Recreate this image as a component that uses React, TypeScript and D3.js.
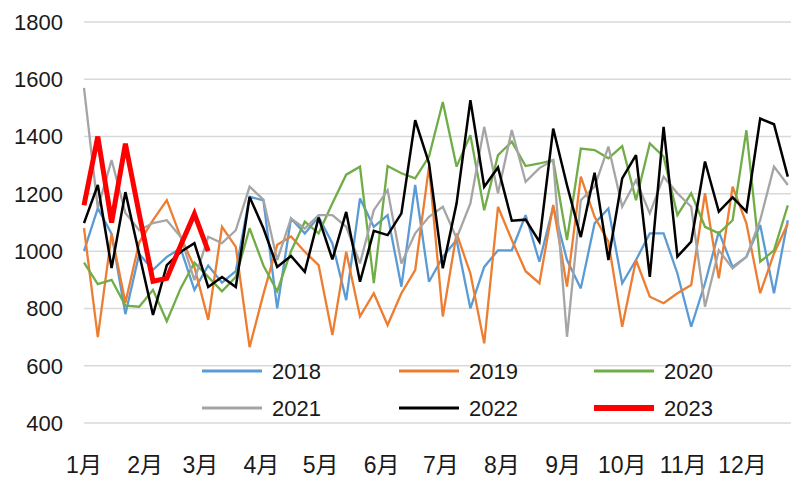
import React from "react";
import * as d3 from "d3";

const years = ["2018", "2019", "2020", "2021", "2022", "2023"];
const colors = ["#5B9BD5", "#ED7D31", "#70AD47", "#A5A5A5", "#000000", "#FF0000"];
const widths = [2.3, 2.3, 2.3, 2.3, 2.5, 5];

const s2018 = [1000, 1150, 1060, 780, 990, 935, 980, 1010, 865, 950, 890, 930, 1190,
  1177, 800, 1114, 1062, 1120, 1027, 829, 1184, 1085, 1126, 876, 1231, 893, 980, 1039, 800, 945, 1003, 1003,
  1126, 963, 1155, 969, 870, 1097, 1149, 888, 969, 1062, 1062, 922, 736, 888, 1068, 945, 980, 1091, 853, 1108];
const s2019 = [1080, 700, 1060, 820, 1030, 1108, 1178, 1050, 945, 760, 1085, 1015, 665,
  850, 1022, 1051, 998, 951, 707, 998, 772, 853, 742, 853, 934, 1295, 772, 1062, 922, 678, 1155, 1039,
  930, 888, 1161, 876, 1260, 1120, 1033, 736, 969, 841, 818, 853, 882, 1202, 905, 1225, 1097, 853, 992, 1097];
const s2020 = [960, 885, 900, 810, 806, 865, 755, 870, 960, 910, 860, 910, 1080,
  950, 860, 1000, 1103, 1062, 1167, 1267, 1295, 888, 1297, 1272, 1254, 1330, 1521, 1295, 1405, 1143, 1335, 1382,
  1297, 1306, 1318, 1039, 1358, 1353, 1324, 1367, 1178, 1376, 1330, 1126, 1202, 1085, 1062, 1108, 1422, 963, 1003, 1160];
const s2021 = [1570, 1150, 1318, 1133, 1073, 1098, 1108, 1050, 899, 1050, 1028, 1073, 1225,
  1180, 969, 1114, 1079, 1126, 1126, 1085, 957, 1143, 1213, 957, 1062, 1120, 1155, 1045, 1167, 1434, 1202, 1423,
  1242, 1290, 1318, 701, 1178, 1225, 1365, 1155, 1248, 1132, 1260, 1202, 1155, 806, 1003, 940, 980, 1108, 1295, 1231];
const s2022 = [1098, 1231, 941, 1206, 990, 777, 951, 997, 1028, 875, 910, 875, 1189,
  1080, 945, 983, 928, 1117, 971, 1137, 893, 1071, 1056, 1132, 1457, 1307, 940, 1167, 1527, 1225, 1292, 1106,
  1110, 1033, 1428, 1230, 1049, 1274, 969, 1254, 1335, 910, 1434, 981, 1033, 1313, 1138, 1188, 1138, 1463, 1443, 1260];
const s2023 = [1160, 1400, 1100, 1375, 1130, 895, 905, 1020, 1130, 1000];

const seriesValues = [s2018, s2019, s2020, s2021, s2022, s2023];

const monthLabels = ["1月", "2月", "3月", "4月", "5月", "6月", "7月", "8月", "9月", "10月", "11月", "12月"];
const monthStartDays = [0, 31, 59, 90, 120, 151, 181, 212, 243, 273, 304, 334];
const yTicks = [400, 600, 800, 1000, 1200, 1400, 1600, 1800];

export default function App() {
  const W = 791;
  const H = 477;
  const x = d3.scaleLinear().domain([0, 52]).range([84, 84 + 52 * 13.8]);
  const y = d3.scaleLinear().domain([400, 1800]).range([423, 22]);
  const line = d3
    .line<number>()
    .x((_, i) => x(i))
    .y((d) => y(d));

  const legendCols = [202, 399, 594];
  const legendRows = [371, 408];

  return (
    <svg
      width={W}
      height={H}
      style={{ position: "fixed", left: 0, top: 0, background: "#fff" }}
      fontFamily="'Liberation Sans', Arial, sans-serif"
    >
      <rect x={0} y={0} width={W} height={H} fill="#fff" />
      {yTicks.map((t) => (
        <g key={t}>
          <line x1={84} x2={W} y1={y(t)} y2={y(t)} stroke="#d9d9d9" strokeWidth={1.5} />
          <text x={63} y={y(t)} dy="0.36em" textAnchor="end" fontSize={22} fill="#1a1a1a">
            {t}
          </text>
        </g>
      ))}
      {monthLabels.map((m, i) => (
        <text
          key={m}
          x={x(monthStartDays[i] / 7)}
          y={473}
          textAnchor="middle"
          fontSize={23}
          fill="#1a1a1a"
          fontFamily="'Liberation Sans', 'Noto Sans CJK SC', sans-serif"
        >
          {m}
        </text>
      ))}
      {seriesValues.map((vals, k) => (
        <path
          key={years[k]}
          d={line(vals) || ""}
          fill="none"
          stroke={colors[k]}
          strokeWidth={widths[k]}
          strokeLinejoin="miter"
          strokeMiterlimit={3}
        />
      ))}
      {years.map((yr, k) => {
        const cx = legendCols[k % 3];
        const cy = legendRows[Math.floor(k / 3)];
        return (
          <g key={"lg" + yr}>
            <line x1={cx} x2={cx + 60} y1={cy} y2={cy} stroke={colors[k]} strokeWidth={k === 5 ? 6 : 3} />
            <text x={cx + 70} y={cy} dy="0.36em" fontSize={22} fill="#1a1a1a">
              {yr}
            </text>
          </g>
        );
      })}
    </svg>
  );
}
